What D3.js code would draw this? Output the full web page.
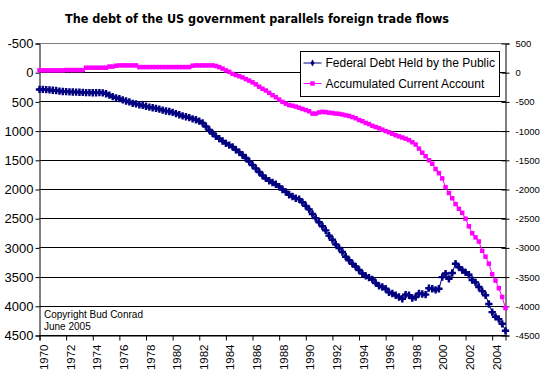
<!DOCTYPE html>
<html>
<head>
<meta charset="utf-8">
<script src="https://cdn.jsdelivr.net/npm/d3@7"></script>
<style>
  body { margin: 0; background: #fff; }
  svg { display: block; }
  text { font-family: "Liberation Sans", Arial, sans-serif; }
</style>
</head>
<body>
<div class="vis"></div>
<script>
// chart data, quarterly from 1970 Q1 to 2005 Q1 (billions)
const START_YEAR = 1970;
const YEAR_TICKS = d3.range(1970, 2005, 2);
const LEFT_TICKS = d3.range(-500, 4501, 500);
const RIGHT_TICKS = d3.range(500, -4501, -500);
const SERIES_NAMES = ["Federal Debt Held by the Public", "Accumulated Current Account"];

const DEBT = [
  286, 285, 290, 295,   300, 305, 315, 322,   325, 328, 330, 332,
  335, 338, 340, 342,   343, 343, 342, 345,   360, 385, 410, 430,
  445, 465, 485, 500,   525, 535, 548, 560,   575, 590, 600, 610,
  625, 640, 655, 665,   680, 700, 720, 740,   755, 770, 790, 805,
  830, 860, 920, 980,   1040, 1090, 1130, 1170,   1210, 1240, 1270, 1320,
  1360, 1410, 1460, 1520,   1580, 1640, 1700, 1760,   1810, 1850, 1880, 1910,
  1950, 2000, 2040, 2090,   2120, 2150, 2165, 2220,   2280, 2340, 2420, 2490,
  2560, 2630, 2700, 2790,   2860, 2940, 3000, 3070,   3150, 3210, 3270, 3320,
  3380, 3440, 3480, 3510,   3540, 3600, 3650, 3670,   3700, 3760, 3780, 3810,
  3840, 3870, 3800, 3810,   3860, 3840, 3780, 3790,   3800, 3690, 3700, 3720,
  3700, 3500, 3440, 3530,   3430, 3270, 3330, 3380,   3420, 3460, 3550, 3590,
  3670, 3740, 3810, 3960,   4100, 4180, 4220, 4300,   4420
];

const CURRENT_ACCOUNT = [
  40, 40, 40, 40,   40, 40, 40, 40,   45, 45, 45, 45,
  45, 45, 85, 85,   85, 85, 85, 85,   85, 105, 105, 120,
  125, 125, 125, 125,   125, 125, 96, 96,   96, 96, 96, 96,
  96, 96, 96, 96,   96, 96, 96, 96,   96, 96, 120, 125,
  125, 125, 125, 125,   125, 115, 95, 70,   40, 15, -20, -40,
  -60, -80, -110, -135,   -165, -200, -240, -275,   -305, -345, -385, -420,
  -460, -500, -530, -555,   -565, -580, -600, -620,   -640, -660, -700, -700,
  -680, -670, -675, -685,   -690, -700, -705, -715,   -730, -740, -760, -780,
  -810, -830, -860, -880,   -910, -930, -950, -975,   -1000, -1020, -1045, -1070,
  -1090, -1110, -1130, -1155,   -1190, -1230, -1300, -1370,   -1430, -1500, -1560, -1650,
  -1720, -1810, -1960, -2060,   -2150, -2250, -2330, -2400,   -2500, -2630, -2750, -2820,
  -2890, -3050, -3150, -3270,   -3450, -3560, -3690, -3840,   -4030
];

// frame
const FRAME_WIDTH = 549;
const FRAME_HEIGHT = 382;
const PLOT = {left: 39.5, right: 505.5, top: 43.5, bottom: 335.5};
const NAVY = "#000080";
const MAGENTA = "#FF00FF";

const FRAME = d3.select(".vis")
  .append("svg")
    .attr("width", FRAME_WIDTH)
    .attr("height", FRAME_HEIGHT);

// scales
const X_SCALE = d3.scaleLinear()
  .domain([1970, 2005])
  .range([PLOT.left, PLOT.right]);

const Y_LEFT = d3.scaleLinear()
  .domain([-500, 4500])
  .range([PLOT.top, PLOT.bottom]);

const Y_RIGHT = d3.scaleLinear()
  .domain([500, -4500])
  .range([PLOT.top, PLOT.bottom]);

const crisp = (v) => Math.round(v - 0.5) + 0.5;

// title
FRAME.append("text")
  .attr("x", 65)
  .attr("y", 22.5)
  .attr("textLength", 384)
  .attr("lengthAdjust", "spacingAndGlyphs")
  .style("font-family", "'DejaVu Sans', Verdana, sans-serif")
  .style("font-weight", "bold")
  .style("font-size", "12.5px")
  .text("The debt of the US government parallels foreign trade flows");

// horizontal gridlines
FRAME.append("g")
  .selectAll("line")
  .data(LEFT_TICKS)
  .enter().append("line")
    .attr("x1", PLOT.left)
    .attr("x2", PLOT.right)
    .attr("y1", (d) => crisp(Y_LEFT(d)))
    .attr("y2", (d) => crisp(Y_LEFT(d)))
    .attr("stroke", (d) => d === -500 ? "#808080" : "#000")
    .attr("stroke-width", 1);

// left axis
const leftAxis = FRAME.append("g")
  .attr("transform", "translate(" + PLOT.left + ",0)")
  .call(d3.axisLeft(Y_LEFT).tickValues(LEFT_TICKS).tickSize(4).tickPadding(2).tickFormat((d) => d));
leftAxis.selectAll("text")
  .style("font-family", "'Liberation Sans', Arial, sans-serif")
  .style("font-size", "13px")
  .attr("fill", "#000");

// right axis, cross ticks
const rightAxis = FRAME.append("g")
  .attr("transform", "translate(" + PLOT.right + ",0)")
  .call(d3.axisRight(Y_RIGHT).tickValues(RIGHT_TICKS).tickSize(4).tickPadding(6).tickFormat((d) => d));
rightAxis.selectAll(".tick line").attr("x1", -4);
rightAxis.selectAll("text")
  .style("font-family", "'Liberation Sans', Arial, sans-serif")
  .style("font-size", "9.5px")
  .attr("fill", "#000");

// bottom axis
const bottomAxis = FRAME.append("g")
  .attr("transform", "translate(0," + PLOT.bottom + ")")
  .call(d3.axisBottom(X_SCALE).tickValues(YEAR_TICKS).tickSize(5).tickFormat((d) => d));
bottomAxis.selectAll("text")
  .style("font-family", "'Liberation Sans', Arial, sans-serif")
  .style("font-size", "11.5px")
  .attr("fill", "#000")
  .attr("text-anchor", "end")
  .attr("transform", "rotate(-90)")
  .attr("x", -9)
  .attr("y", 4)
  .attr("dy", "0.35em");

[leftAxis, rightAxis, bottomAxis].forEach((g) => {
  g.select(".domain").attr("stroke", "#000");
  g.selectAll(".tick line").attr("stroke", "#000");
});

// marker shapes
const crossSym = d3.symbol().type(d3.symbolCross).size(30);
const diamondSym = d3.symbol().type(d3.symbolSquare).size(14);
const squareSym = d3.symbol().type(d3.symbolSquare).size(20);

const debtPoints = DEBT.map((v, i) => ({year: START_YEAR + i / 4, value: v}));
const caPoints = CURRENT_ACCOUNT.map((v, i) => ({year: START_YEAR + i / 4, value: v}));

// current account (right axis)
FRAME.append("path")
  .datum(caPoints)
  .attr("fill", "none")
  .attr("stroke", MAGENTA)
  .attr("stroke-width", 1)
  .attr("d", d3.line().x((d) => X_SCALE(d.year)).y((d) => Y_RIGHT(d.value)));

FRAME.append("g")
  .selectAll("path")
  .data(caPoints)
  .enter().append("path")
    .attr("transform", (d) => "translate(" + X_SCALE(d.year) + "," + Y_RIGHT(d.value) + ")")
    .attr("d", squareSym())
    .attr("fill", MAGENTA);

// federal debt (left axis)
FRAME.append("path")
  .datum(debtPoints)
  .attr("fill", "none")
  .attr("stroke", NAVY)
  .attr("stroke-width", 1)
  .attr("d", d3.line().x((d) => X_SCALE(d.year)).y((d) => Y_LEFT(d.value)));

const debtMarks = FRAME.append("g")
  .selectAll("g")
  .data(debtPoints)
  .enter().append("g")
    .attr("transform", (d) => "translate(" + X_SCALE(d.year) + "," + Y_LEFT(d.value) + ")");
debtMarks.append("path").attr("d", crossSym()).attr("fill", NAVY);
debtMarks.append("path").attr("d", diamondSym()).attr("transform", "rotate(45)").attr("fill", NAVY);

// legend
const LEGEND = FRAME.append("g").attr("transform", "translate(300.5,51.5)");
LEGEND.append("rect")
  .attr("width", 199)
  .attr("height", 45)
  .attr("fill", "#fff")
  .attr("stroke", "#000");

const legendRows = LEGEND.selectAll(".row")
  .data(SERIES_NAMES)
  .enter().append("g")
    .attr("class", "row")
    .attr("transform", (d, i) => "translate(0," + (11.5 + i * 20.5) + ")");

legendRows.append("line")
  .attr("x1", 3).attr("x2", 21)
  .attr("stroke", (d, i) => i === 0 ? NAVY : MAGENTA);

legendRows.append("path")
  .attr("transform", "translate(12,0)")
  .attr("d", (d, i) => i === 0 ? d3.symbol().type(d3.symbolDiamond).size(14)() : squareSym())
  .attr("fill", (d, i) => i === 0 ? NAVY : MAGENTA);

legendRows.append("text")
  .attr("x", 25)
  .attr("dy", "0.35em")
  .style("font-size", "12px")
  .text((d) => d);

// copyright note
FRAME.append("text")
  .attr("x", 44)
  .attr("y", 318)
  .style("font-size", "10px")
  .text("Copyright Bud Conrad");
FRAME.append("text")
  .attr("x", 44)
  .attr("y", 329.5)
  .style("font-size", "10px")
  .text("June 2005");
</script>
</body>
</html>
